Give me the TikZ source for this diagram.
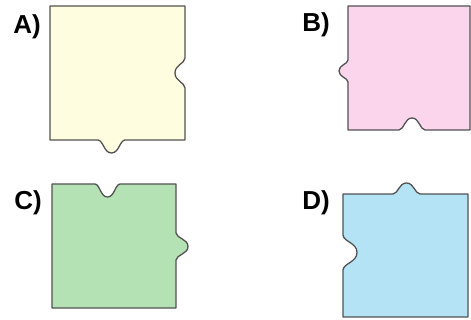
\documentclass[tikz,border=0pt]{standalone}
\usepackage{fontspec}
\setmainfont{Liberation Sans}
\begin{document}
\begin{tikzpicture}[x=1pt,y=-1pt,
  piece/.style={draw=black!68, line width=1.3pt, line join=round},
  lbl/.style={font=\fontsize{26}{26}\selectfont\bfseries, inner sep=0pt}]
\useasboundingbox (0,0) rectangle (471,320);
\definecolor{cA}{HTML}{FFFDDF}
\definecolor{cB}{HTML}{FAD5EB}
\definecolor{cC}{HTML}{B4E2B4}
\definecolor{cD}{HTML}{B4E3F6}
% A
\path[piece, fill=cA] (50,6) -- (185,6) -- (185,58)
  .. controls (184.5,64) and (175,64.6) .. (175,73)
  .. controls (175,81.4) and (184.5,82) .. (185,88)
  -- (185,140) -- (125,140)
  .. controls (119.6,140.6) and (119.1,153) .. (111.5,153)
  .. controls (103.9,153) and (103.4,140.6) .. (98,140)
  -- (50,140) -- cycle;
% B
\path[piece, fill=cB] (348,6) -- (470,6) -- (470,130) -- (425,130)
  .. controls (419.8,129.4) and (419.3,118) .. (412,118)
  .. controls (404.7,118) and (404.2,129.4) .. (399,130)
  -- (348,130) -- (348,82)
  .. controls (347.5,77.6) and (339,77.2) .. (339,71)
  .. controls (339,64.8) and (347.5,64.4) .. (348,60)
  -- cycle;
% C
\path[piece, fill=cC] (52,184) -- (95,184)
  .. controls (100,184.6) and (100.5,197) .. (107.5,197)
  .. controls (114.5,197) and (115,184.6) .. (120,184)
  -- (176,184) -- (176,233)
  .. controls (176.6,238.4) and (188,238.9) .. (188,246.5)
  .. controls (188,254.1) and (176.6,254.6) .. (176,260)
  -- (176,308) -- (52,308) -- cycle;
% D
\path[piece, fill=cD] (343,194) -- (393,194)
  .. controls (398.4,193.4) and (398.9,183) .. (406.5,183)
  .. controls (414.1,183) and (414.6,193.4) .. (420,194)
  -- (468,194) -- (468,317) -- (343,317) -- (343,270)
  .. controls (343.7,263) and (357,262.3) .. (357,252.5)
  .. controls (357,242.7) and (343.7,242) .. (343,235)
  -- cycle;
\node[lbl] (la) at (27,27) {A)};
\node[lbl] (lb) at (316,25) {B)};
\node[lbl] (lc) at (28,203) {C)};
\node[lbl] (ld) at (316,203) {D)};
\end{tikzpicture}
\end{document}
